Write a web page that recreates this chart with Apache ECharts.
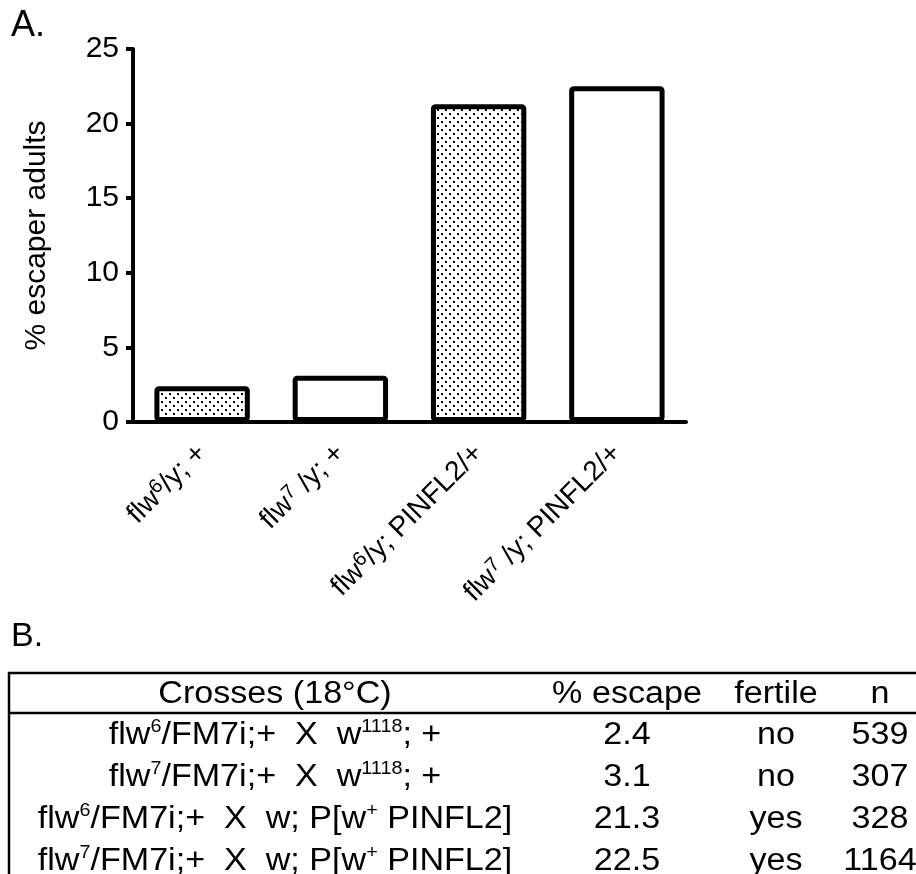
<!DOCTYPE html>
<html>
<head>
<meta charset="utf-8">
<script src="https://cdn.jsdelivr.net/npm/echarts@6/dist/echarts.min.js"></script>
<style>
  html, body { margin: 0; padding: 0; background: #fff; }
  #chart { width: 916px; height: 874px; }
</style>
</head>
<body>
<div id="chart"></div>
<script>
  // panel A
  var genotypes = ['flw{s|6}/y; +', 'flw{s|7} /y; +', 'flw{s|6}/y; PINFL2/+', 'flw{s|7} /y; PINFL2/+'];
  var escapePct = [2.4, 3.1, 21.3, 22.5];
  var dotted = [true, false, true, false];

  // panel B
  var tableHeader = ['Crosses (18°C)', '% escape', 'fertile', 'n'];
  var crosses = [
    'flw{s|6}/FM7i;+  X  w{s|1118}; +',
    'flw{s|7}/FM7i;+  X  w{s|1118}; +',
    'flw{s|6}/FM7i;+  X  w; P[w{s|+} PINFL2]',
    'flw{s|7}/FM7i;+  X  w; P[w{s|+} PINFL2]'
  ];
  var fertile = ['no', 'no', 'yes', 'yes'];
  var counts = [539, 307, 328, 1164];

  var FONT = 'Liberation Sans, Arial, Helvetica, sans-serif';

  // stipple fill
  var tile = document.createElement('canvas');
  tile.width = 8;
  tile.height = 8;
  var tctx = tile.getContext('2d');
  tctx.fillStyle = '#fff';
  tctx.fillRect(0, 0, 8, 8);
  tctx.fillStyle = '#000';
  tctx.fillRect(1, 1, 2, 2);
  tctx.fillRect(5, 5, 2, 2);

  var chart = echarts.init(document.getElementById('chart'));

  // table text, columns centred
  var colX = [275, 627, 776, 880];
  var headerY = 694;
  var rowY0 = 735;
  var rowStep = 42;
  var tableRich = {
    s: { fontSize: 18, fontFamily: FONT, color: '#000', verticalAlign: 'top', lineHeight: 34 },
    n: { fontSize: 31, fontFamily: FONT, color: '#000', lineHeight: 34 }
  };
  function cell(text, x, y) {
    return {
      type: 'text',
      x: x,
      y: y,
      scaleX: 1.1,
      style: {
        text: text,
        rich: tableRich,
        font: '31px ' + FONT,
        fill: '#000',
        align: 'center',
        verticalAlign: 'middle'
      }
    };
  }
  function wrap(t) {
    // plain parts go through style n so line box is consistent
    return t.replace(/(^|\})([^{]+)/g, function (m, a, b) { return a + '{n|' + b + '}'; });
  }

  var graphics = [
    { type: 'text', left: 11, top: 8, style: { text: 'A.', font: '36px ' + FONT, fill: '#000' } },
    { type: 'text', left: 11, top: 620, style: { text: 'B.', font: '34px ' + FONT, fill: '#000' } },
    { type: 'line', shape: { x1: 8, y1: 673, x2: 930, y2: 673 }, style: { stroke: '#000', lineWidth: 2.5 } },
    { type: 'line', shape: { x1: 8, y1: 713, x2: 930, y2: 713 }, style: { stroke: '#000', lineWidth: 2.5 } },
    { type: 'line', shape: { x1: 9, y1: 672, x2: 9, y2: 880 }, style: { stroke: '#000', lineWidth: 2.5 } }
  ];
  tableHeader.forEach(function (h, j) {
    graphics.push(cell('{n|' + h + '}', colX[j], headerY));
  });
  crosses.forEach(function (c, i) {
    var y = rowY0 + i * rowStep;
    graphics.push(cell(wrap(c), colX[0], y));
    graphics.push(cell('{n|' + escapePct[i].toFixed(1) + '}', colX[1], y));
    graphics.push(cell('{n|' + fertile[i] + '}', colX[2], y));
    graphics.push(cell('{n|' + counts[i] + '}', colX[3], y));
  });

  chart.setOption({
    backgroundColor: '#fff',
    animation: false,
    textStyle: { fontFamily: FONT, color: '#000' },
    grid: {
      left: 133,
      right: 230,
      top: 49,
      height: 373,
      containLabel: false
    },
    xAxis: {
      type: 'category',
      data: genotypes.map(wrap),
      boundaryGap: true,
      axisLine: { lineStyle: { color: '#000', width: 4 } },
      axisTick: { alignWithLabel: true, length: 12, lineStyle: { color: '#000', width: 4 } },
      axisLabel: {
        rotate: 45,
        margin: 27,
        interval: 0,
        color: '#000',
        rich: {
          n: { fontSize: 28, fontFamily: FONT, color: '#000', lineHeight: 31 },
          s: { fontSize: 20, fontFamily: FONT, color: '#000', verticalAlign: 'top', lineHeight: 31 }
        }
      },
      splitLine: { show: false }
    },
    yAxis: {
      type: 'value',
      min: 0,
      max: 25,
      interval: 5,
      name: '% escaper adults',
      nameLocation: 'middle',
      nameGap: 81,
      nameTextStyle: { fontSize: 30, fontFamily: FONT, color: '#000' },
      axisLine: { show: true, lineStyle: { color: '#000', width: 4 } },
      axisTick: { show: true, length: 7, lineStyle: { color: '#000', width: 4 } },
      axisLabel: { fontSize: 30, color: '#000', margin: 14, fontFamily: FONT },
      splitLine: { show: false }
    },
    series: [{
      type: 'bar',
      barWidth: '69%',
      data: escapePct.map(function (v, i) {
        return {
          value: v,
          itemStyle: { color: dotted[i] ? { image: tile, repeat: 'repeat' } : '#fff' }
        };
      }),
      itemStyle: { borderColor: '#000', borderWidth: 5, borderRadius: 2 },
      emphasis: { disabled: true }
    }],
    graphic: graphics
  });
</script>
</body>
</html>
